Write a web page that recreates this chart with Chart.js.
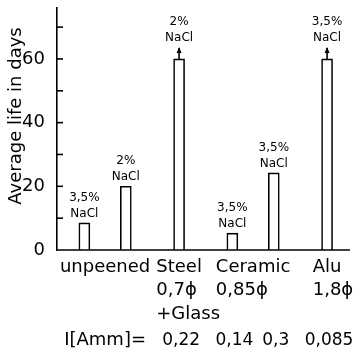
<!DOCTYPE html>
<html lang="en">
<head>
    <meta charset="UTF-8">
    <title>Average life in days</title>
    <script src="https://cdn.jsdelivr.net/npm/chart.js"></script>
    <style>
        body { margin: 0; background: #fff; }
        .box { width: 357px; height: 348px; }
    </style>
</head>
<body>
    <div class="box"><canvas id="lifeChart"></canvas></div>
    <script>
        // groups along the bottom
        const groupNames = ['unpeened', 'Steel', 'Ceramic', 'Alu'];
        const groupSub = [[], ['0,7ϕ', '+Glass'], ['0,85ϕ'], ['1,8ϕ']];
        const groupPos = [1, 2, 3, 4];

        // one entry per bar
        const barPos = [0.72, 1.28, 2, 2.72, 3.28, 4];
        const lifeDays = [8.5, 20, 60, 5.3, 24.2, 60];
        const saltPct = ['3,5%', '2%', '2%', '3,5%', '3,5%', '3,5%'];
        const saltName = 'NaCl';
        const offScale = [false, false, true, false, false, true];
        const currents = ['', '', '0,22', '0,14', '0,3', '0,085'];
        const currentLabel = 'I[Amm]=';

        const yMarks = [10, 20, 30, 40, 50, 60, 70];
        const yTitle = 'Average life in days';

        const FONT = 'DejaVu Sans';

        const extras = {
            id: 'extras',
            afterDatasetsDraw(chart) {
                const c = chart.ctx;
                const xs = chart.scales.x;
                const ys = chart.scales.y;
                const area = chart.chartArea;
                const y0 = ys.getPixelForValue(0);
                c.save();
                c.strokeStyle = '#000';
                c.fillStyle = '#000';
                c.lineWidth = 1.6;

                // baseline
                c.beginPath();
                c.moveTo(area.left, y0);
                c.lineTo(area.right, y0);
                c.stroke();

                // inward tick marks
                yMarks.forEach(v => {
                    const y = ys.getPixelForValue(v);
                    c.beginPath();
                    c.moveTo(area.left, y);
                    c.lineTo(area.left + 6, y);
                    c.stroke();
                });

                // y title, sits a bit above the middle
                c.save();
                c.translate(16, (area.top + area.bottom) / 2 - 13);
                c.rotate(-Math.PI / 2);
                c.font = '18px ' + FONT;
                c.textAlign = 'center';
                c.textBaseline = 'middle';
                c.fillText(yTitle, 0, 0);
                c.restore();

                // arrows + salt labels
                const meta = chart.getDatasetMeta(0);
                c.textAlign = 'center';
                c.textBaseline = 'alphabetic';
                c.font = '12px ' + FONT;
                meta.data.forEach((bar, i) => {
                    let top = bar.y;
                    if (offScale[i]) {
                        c.beginPath();
                        c.moveTo(bar.x, top);
                        c.lineTo(bar.x, top - 11);
                        c.stroke();
                        c.beginPath();
                        c.moveTo(bar.x, top - 12);
                        c.lineTo(bar.x - 2.5, top - 6);
                        c.lineTo(bar.x + 2.5, top - 6);
                        c.closePath();
                        c.fill();
                        top -= 12;
                    }
                    c.fillText(saltName, bar.x, top - 6);
                    c.fillText(saltPct[i], bar.x, top - 22);
                });

                // group labels
                c.font = '18px ' + FONT;
                c.textAlign = 'left';
                groupNames.forEach((name, g) => {
                    const cx = xs.getPixelForValue(groupPos[g]);
                    const left = cx - c.measureText(name).width / 2;
                    c.fillText(name, left, y0 + 22);
                    groupSub[g].forEach((line, k) => {
                        c.fillText(line, left, y0 + 45 + k * 24);
                    });
                });

                // current row
                c.textAlign = 'center';
                c.fillText(currentLabel, xs.getPixelForValue(groupPos[0]), y0 + 95);
                c.font = '17px ' + FONT;
                currents.forEach((t, i) => {
                    if (t) c.fillText(t, xs.getPixelForValue(barPos[i]) + 2, y0 + 95);
                });
                c.restore();
            }
        };

        new Chart(document.getElementById('lifeChart'), {
            type: 'bar',
            data: {
                datasets: [{
                    data: barPos.map((p, i) => ({ x: p, y: lifeDays[i] })),
                    backgroundColor: '#fff',
                    borderColor: '#000',
                    borderWidth: 1.6,
                    borderSkipped: 'bottom',
                    barThickness: 11
                }]
            },
            options: {
                responsive: true,
                maintainAspectRatio: false,
                animation: false,
                events: [],
                layout: { padding: { top: 8, right: 7, bottom: 98, left: 0 } },
                plugins: { legend: { display: false }, tooltip: { enabled: false } },
                scales: {
                    x: {
                        type: 'linear',
                        min: 0.35,
                        max: 4.31,
                        offset: false,
                        display: false
                    },
                    y: {
                        min: 0,
                        max: 76,
                        afterFit: s => {
                            s.width = 57;
                            s.paddingTop = 0;
                            s.paddingBottom = 0;
                        },
                        grid: { display: false },
                        border: { display: true, color: '#000', width: 1.6 },
                        ticks: {
                            stepSize: 10,
                            padding: 4,
                            color: '#000',
                            font: { family: FONT, size: 18 },
                            callback: v => (v % 20 === 0 ? v : '')
                        }
                    }
                }
            },
            plugins: [extras]
        });
    </script>
</body>
</html>
